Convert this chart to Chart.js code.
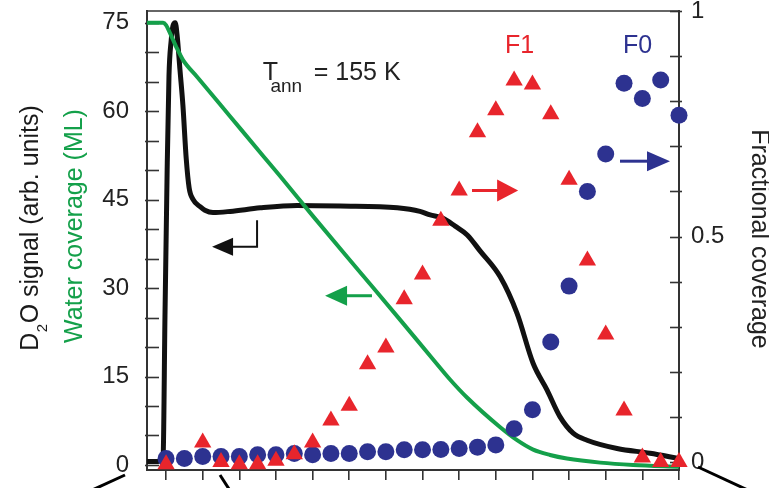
<!DOCTYPE html>
<html>
<head>
<meta charset="utf-8">
<script src="https://cdn.jsdelivr.net/npm/chart.js@4.4.1/dist/chart.umd.min.js"></script>
<style>
  html, body { margin: 0; padding: 0; background: #fff; }
  #wrap { width: 769px; height: 488px; }
</style>
</head>
<body>
<div id="wrap"><canvas id="tpdChart" width="769" height="488"></canvas></div>
<script>
// x is in units of the bottom tick spacing (tick labels are cut off in the figure)
const d2oX = [0.48, 0.78, 0.86, 0.92, 0.97, 1.03, 1.08, 1.14, 1.19, 1.25, 1.30, 1.38, 1.46, 1.55, 1.63, 1.74, 1.93,
  2.06, 2.28, 2.75, 3.57, 4.58, 5.75, 7.31, 7.93, 8.21, 8.53, 8.89, 9.22, 9.57, 10.12, 10.58, 11.02, 11.40, 11.75,
  12.11, 12.49, 13.31, 14.21, 15.00];
const d2oSignal = [0.6, 0.6, 0.8, 1.5, 25, 50, 66, 72, 74.5, 75, 73, 67, 61, 52, 47, 45, 43.8,
  43.2, 42.8, 43.0, 43.6, 44.0, 43.9, 43.6, 43.0, 42.4, 41.9, 40.5, 39.0, 36.3, 31.9, 25.7, 17.2, 12.7, 8.2,
  5.4, 4.2, 2.8, 2.0, 1.1];

const waterX = [0.48, 0.92, 1.00, 1.08, 1.19, 1.27, 1.46, 1.85, 2.75, 3.65, 4.11, 5.01, 5.83, 6.62, 7.39, 8.29,
  8.75, 9.22, 10.12, 10.58, 11.02, 11.48, 11.94, 12.85, 13.75, 15.00];
const waterCoverage = [75, 75, 74.6, 73.6, 72.1, 71.0, 68.7, 65.8, 59.1, 52.4, 49.0, 42.2, 36.1, 30.3, 24.6, 17.9,
  14.5, 11.4, 6.4, 4.2, 2.6, 1.7, 1.1, 0.4, 0.0, -0.3];

const f1X = [1, 2, 2.5, 3, 3.5, 4, 4.5, 5, 5.5, 6, 6.5, 7, 7.5, 8, 8.5, 9, 9.5, 10, 10.5, 11, 11.5, 12, 12.5, 13,
  13.5, 14, 14.5, 15];
const f1Coverage = [-0.005, 0.043, 0, -0.005, -0.005, 0.003, 0.017, 0.043, 0.092, 0.125, 0.217, 0.254, 0.361, 0.416,
  0.535, 0.602, 0.731, 0.780, 0.846, 0.837, 0.771, 0.626, 0.447, 0.283, 0.114, 0.010, 0, 0];

const f0X = [1, 1.5, 2, 2.5, 3, 3.5, 4, 4.5, 5, 5.5, 6, 6.5, 7, 7.5, 8, 8.5, 9, 9.5, 10, 10.5, 11, 11.5, 12, 12.5,
  13, 13.5, 14, 14.5, 15];
const f0Coverage = [0.008, 0.008, 0.012, 0.012, 0.012, 0.016, 0.016, 0.019, 0.016, 0.019, 0.019, 0.023, 0.023,
  0.027, 0.027, 0.028, 0.030, 0.033, 0.038, 0.074, 0.116, 0.266, 0.390, 0.600, 0.683, 0.840, 0.806, 0.847, 0.769];

const xTicks = [1, 2, 3, 4, 5, 6, 7, 8, 9, 10, 11, 12, 13, 14, 15];
const d2oTicks = [0, 5, 10, 15, 20, 25, 30, 35, 40, 45, 50, 55, 60, 65, 70, 75];
const d2oLabelled = [0, 15, 30, 45, 60, 75];
const coverageTicks = [0, 0.1, 0.2, 0.3, 0.4, 0.5, 0.6, 0.7, 0.8, 0.9, 1];
const coverageLabelled = [0, 0.5, 1];

const RED = '#e8252c';
const BLUE = '#2d3290';
const GREEN = '#14a04a';
const BLACK = '#111';
const AXIS = '#333';
const FONT = '"Liberation Sans", Arial, sans-serif';

const ctx = document.getElementById('tpdChart').getContext('2d');
const toXY = (xs, ys) => xs.map((x, i) => ({ x, y: ys[i] }));

function setTicks(list) {
  return (scale) => { scale.ticks = list.map(v => ({ value: v })); };
}

// fixed axis box, no extra room for overflowing labels
function fixSize(w, h) {
  return (s) => {
    if (w !== null) s.width = w;
    if (h !== null) s.height = h;
    s.paddingTop = 0;
    s.paddingBottom = 0;
    s.paddingLeft = 0;
    s.paddingRight = 0;
  };
}

function hline(c, x1, y1, x2, y2) {
  c.beginPath();
  c.moveTo(x1, y1);
  c.lineTo(x2, y2);
  c.stroke();
}

// horizontal arrow, filled head with tip at tipX
function arrow(c, pts, tipX, headLen, headHalf, color, lw) {
  c.save();
  c.strokeStyle = color;
  c.fillStyle = color;
  c.lineWidth = lw;
  const last = pts[pts.length - 1];
  const dir = tipX > last[0] ? 1 : -1;
  const baseX = tipX - dir * headLen;
  c.beginPath();
  c.moveTo(pts[0][0], pts[0][1]);
  for (let i = 1; i < pts.length; i++) c.lineTo(pts[i][0], pts[i][1]);
  c.lineTo(baseX + dir, last[1]);
  c.stroke();
  c.beginPath();
  c.moveTo(tipX, last[1]);
  c.lineTo(baseX, last[1] - headHalf);
  c.lineTo(baseX, last[1] + headHalf);
  c.closePath();
  c.fill();
  c.restore();
}

const frame = {
  id: 'frame',
  beforeDatasetsDraw(chart) {
    const { ctx: c, chartArea: a, scales } = chart;
    c.save();
    c.strokeStyle = AXIS;
    c.lineWidth = 1.6;
    hline(c, a.left, a.top, a.right, a.top);
    scales.y.ticks.forEach(t => {
      const py = Math.round(scales.y.getPixelForValue(t.value)) + 0.5;
      hline(c, a.left - 2, py, a.left + 12, py);
    });
    scales.yCov.ticks.forEach(t => {
      const py = Math.round(scales.yCov.getPixelForValue(t.value)) + 0.5;
      hline(c, a.right - 9, py, a.right + 3, py);
    });
    c.restore();
  },
  afterDatasetsDraw(chart) {
    const { ctx: c, scales } = chart;
    const X = v => scales.x.getPixelForValue(v);
    const YL = v => scales.y.getPixelForValue(v);
    const YR = v => scales.yCov.getPixelForValue(v);

    // arrows telling which axis each trace belongs to
    arrow(c, [[X(3.484), YL(41.5)], [X(3.484), YL(37.0)]], X(2.255), 21, 9, BLACK, 2);
    arrow(c, [[X(6.62), YL(28.7)]], X(5.34), 22, 10, GREEN, 3);
    arrow(c, [[X(9.35), YR(0.602)]], X(10.61), 21, 11, RED, 3);
    arrow(c, [[X(13.39), YR(0.667)]], X(14.755), 23, 10, BLUE, 3);

    c.save();
    c.textBaseline = 'alphabetic';
    c.textAlign = 'left';
    // T_ann = 155 K
    c.fillStyle = '#222';
    c.font = `25px ${FONT}`;
    c.fillText('T', X(3.64), YL(65.3));
    c.font = `19px ${FONT}`;
    c.fillText('ann', X(3.85), YL(63.3));
    c.font = `25px ${FONT}`;
    c.fillText('= 155 K', X(5.03), YL(65.3));
    // series names
    c.fillStyle = RED;
    c.fillText('F1', X(10.25), YR(0.907));
    c.fillStyle = BLUE;
    c.fillText('F0', X(13.47), YR(0.907));
    c.restore();

    // axis titles
    c.save();
    c.translate(38, 228);
    c.rotate(-Math.PI / 2);
    const p1 = 'D', p3 = 'O signal (arb. units)';
    c.font = `25px ${FONT}`;
    const w1 = c.measureText(p1).width;
    const w3 = c.measureText(p3).width;
    c.font = `15px ${FONT}`;
    const w2 = c.measureText('2').width + 1;
    const sx = -(w1 + w2 + w3) / 2;
    c.fillStyle = '#1a1a1a';
    c.font = `25px ${FONT}`;
    c.fillText(p1, sx, 0);
    c.font = `15px ${FONT}`;
    c.fillText('2', sx + w1 + 0.5, 9);
    c.font = `25px ${FONT}`;
    c.fillText(p3, sx + w1 + w2, 0);
    c.restore();

    c.save();
    c.translate(82, 226);
    c.rotate(-Math.PI / 2);
    c.font = `25px ${FONT}`;
    c.textAlign = 'center';
    c.fillStyle = GREEN;
    c.fillText('Water coverage (ML)', 0, 0);
    c.restore();

    c.save();
    c.translate(752, 239);
    c.rotate(Math.PI / 2);
    c.font = `25px ${FONT}`;
    c.textAlign = 'center';
    c.fillStyle = '#222';
    c.fillText('Fractional coverage', 0, 0);
    c.restore();

    // connector lines to the panel below
    c.save();
    c.strokeStyle = '#000';
    c.lineWidth = 3;
    hline(c, 90, 491, 125, 475);
    hline(c, 220, 475, 229, 489);
    hline(c, 698, 467, 752, 492);
    c.restore();
  }
};

new Chart(ctx, {
  type: 'scatter',
  data: {
    datasets: [
      {
        label: 'F1',
        data: toXY(f1X, f1Coverage),
        yAxisID: 'yCov',
        pointStyle: 'triangle',
        pointRadius: 10,
        backgroundColor: RED,
        borderWidth: 0,
        clip: false
      },
      {
        label: 'F0',
        data: toXY(f0X, f0Coverage),
        yAxisID: 'yCov',
        pointStyle: 'circle',
        pointRadius: 8.5,
        backgroundColor: BLUE,
        borderWidth: 0,
        clip: false
      },
      {
        type: 'line',
        label: 'Water coverage (ML)',
        data: toXY(waterX, waterCoverage),
        yAxisID: 'y',
        borderColor: GREEN,
        borderWidth: 4,
        pointRadius: 0,
        cubicInterpolationMode: 'monotone',
        fill: false
      },
      {
        type: 'line',
        label: 'D2O signal',
        data: toXY(d2oX, d2oSignal),
        yAxisID: 'y',
        borderColor: BLACK,
        borderWidth: 5,
        pointRadius: 0,
        cubicInterpolationMode: 'monotone',
        fill: false
      }
    ]
  },
  options: {
    responsive: false,
    animation: false,
    events: [],
    layout: { padding: { top: 11, left: 0, right: 0, bottom: 0 } },
    plugins: { legend: { display: false }, tooltip: { enabled: false } },
    scales: {
      x: {
        type: 'linear',
        min: 0.48,
        max: 15,
        afterBuildTicks: setTicks(xTicks),
        afterFit: fixSize(null, 18),
        ticks: { display: false },
        grid: { drawOnChartArea: false, drawTicks: true, tickLength: 10, color: AXIS, lineWidth: 1.6 },
        border: { color: AXIS, width: 2 }
      },
      y: {
        position: 'left',
        min: -0.85,
        max: 76.98,
        afterBuildTicks: setTicks(d2oTicks),
        afterFit: fixSize(147, null),
        ticks: {
          autoSkip: false,
          padding: 18,
          color: '#222',
          font: { family: FONT, size: 24 },
          callback: v => d2oLabelled.includes(v) ? String(v) : ''
        },
        grid: { drawOnChartArea: false, drawTicks: false },
        border: { color: AXIS, width: 2 }
      },
      yCov: {
        position: 'right',
        min: -0.0177,
        max: 1,
        afterBuildTicks: setTicks(coverageTicks),
        afterFit: fixSize(90, null),
        ticks: {
          autoSkip: false,
          padding: 12,
          color: '#222',
          font: { family: FONT, size: 24 },
          callback: v => coverageLabelled.includes(v) ? String(v) : ''
        },
        grid: { drawOnChartArea: false, drawTicks: false },
        border: { color: AXIS, width: 2 }
      }
    }
  },
  plugins: [frame]
});
</script>
</body>
</html>
